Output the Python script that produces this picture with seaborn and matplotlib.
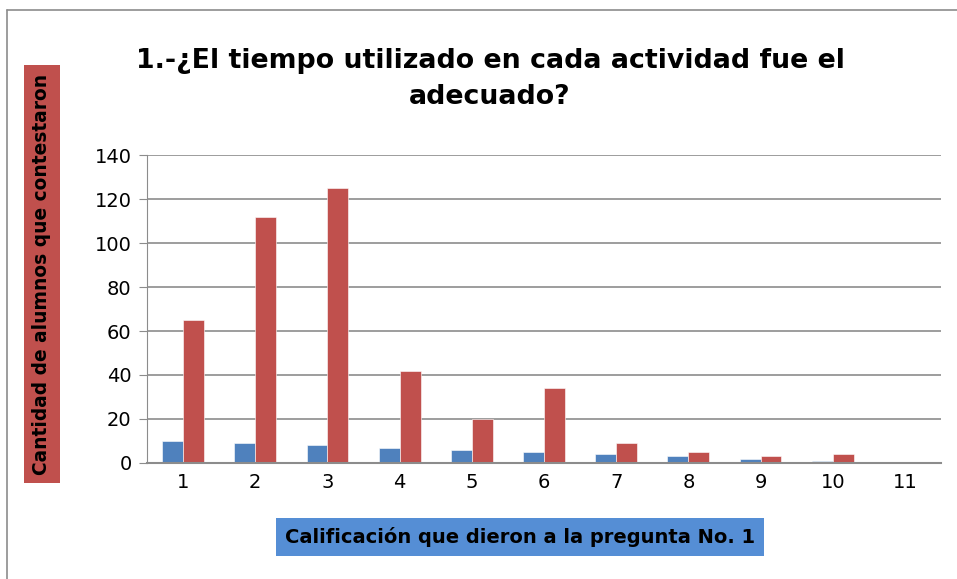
import numpy as np
import pandas as pd
import matplotlib
matplotlib.use('Agg')
import matplotlib.pyplot as plt
import seaborn as sns

# data
calificacion = [1, 2, 3, 4, 5, 6, 7, 8, 9, 10, 11]
serie_azul = [10, 9, 8, 7, 6, 5, 4, 3, 2, 1, 0]
serie_roja = [65, 112, 125, 42, 20, 34, 9, 5, 3, 4, 0]

df = pd.DataFrame({
    'calificacion': calificacion * 2,
    'cantidad': serie_azul + serie_roja,
    'serie': ['Serie1'] * len(calificacion) + ['Serie2'] * len(calificacion),
})

sns.set_style('white', {'text.color': 'black', 'xtick.color': 'black', 'ytick.color': 'black'})
plt.rcParams['font.family'] = ['DejaVu Sans']

fig = plt.figure(figsize=(9.57, 5.79), dpi=100)
ax = fig.add_axes([147 / 957, 1 - 463 / 579, (941 - 147) / 957, (463 - 155) / 579])

sns.barplot(data=df, x='calificacion', y='cantidad', hue='serie',
            palette=['#4F81BD', '#C0504D'], saturation=1, width=0.58, gap=0,
            edgecolor='white', linewidth=0.4, legend=False, ax=ax)

ax.set_ylim(0, 140)
ax.set_xlim(-0.5, len(calificacion) - 0.5)
ax.set_yticks(range(0, 141, 20))
ax.yaxis.grid(True, color='#8c8c8c', linewidth=1.2)
ax.set_axisbelow(True)
for s in ['top', 'right']:
    ax.spines[s].set_visible(False)
ax.spines['left'].set_color('#8c8c8c')
ax.spines['bottom'].set_color('#8c8c8c')
ax.spines['bottom'].set_linewidth(1.5)
ax.tick_params(axis='y', length=6, color='#8c8c8c', labelcolor='black', direction='out',
               labelsize=14, pad=5, left=True)
ax.tick_params(axis='x', length=0, labelcolor='black', labelsize=14, pad=7)
ax.set_xlabel('')
ax.set_ylabel('')

fig.text(490 / 957, 1 - 79 / 579, '1.-¿El tiempo utilizado en cada actividad fue el\nadecuado?',
         ha='center', va='center', fontsize=19.3, fontweight='bold', linespacing=1.55,
         color='black')

fig.text(42 / 957, 1 - 274 / 579, 'Cantidad de alumnos que contestaron', rotation=90,
         ha='center', va='center', fontsize=13.4, fontweight='bold', color='black',
         bbox=dict(boxstyle='square,pad=0.45', facecolor='#C0504D', edgecolor='none'))

fig.text(520 / 957, 1 - 537 / 579, 'Calificación que dieron a la pregunta No. 1',
         ha='center', va='center', fontsize=14, fontweight='bold', color='black',
         bbox=dict(boxstyle='square,pad=0.45', facecolor='#558ED5', edgecolor='none'))

# outer frame of the chart
fig.add_artist(plt.Line2D([7 / 957, 7 / 957], [0, 1 - 10 / 579], color='#8c8c8c', linewidth=1.2))
fig.add_artist(plt.Line2D([7 / 957, 1], [1 - 10 / 579, 1 - 10 / 579], color='#8c8c8c', linewidth=1.2))

fig.savefig('out.png', dpi=100)
